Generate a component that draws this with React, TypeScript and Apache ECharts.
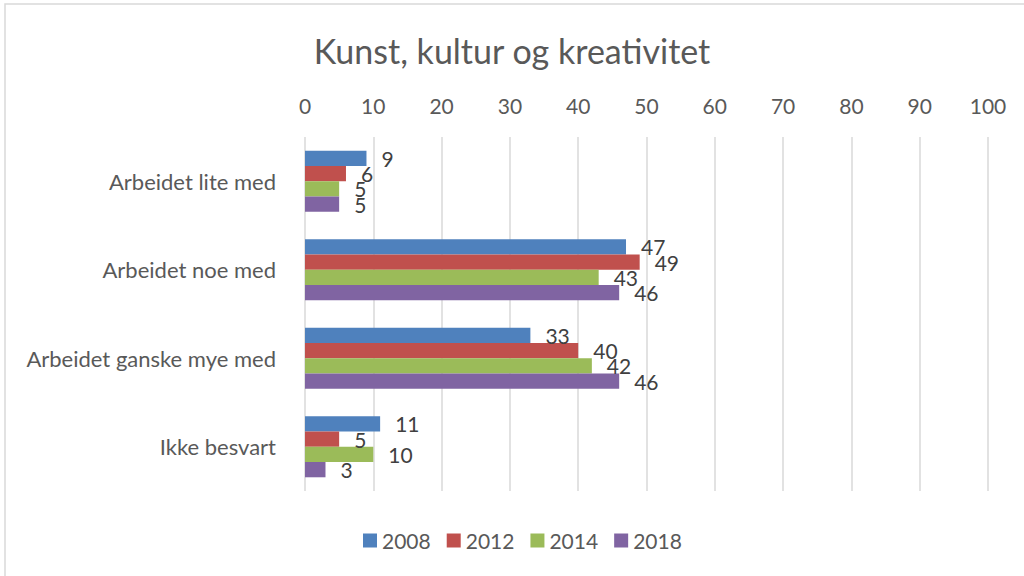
import React, { useEffect, useRef } from "react";
import * as echarts from "echarts";

const categories = ["Arbeidet lite med", "Arbeidet noe med", "Arbeidet ganske mye med", "Ikke besvart"];
const seriesNames = ["2008", "2012", "2014", "2018"];
const v2008 = [9, 47, 33, 11];
const v2012 = [6, 49, 40, 5];
const v2014 = [5, 43, 42, 10];
const v2018 = [5, 46, 46, 3];
const colors = ["#4F81BD", "#C0504D", "#9BBB59", "#8064A2"];
const values = [v2008, v2012, v2014, v2018];

const FONT = "Lato";

export default function App() {
  const ref = useRef<HTMLDivElement>(null);
  useEffect(() => {
    const chart = echarts.init(ref.current!, null, { renderer: "svg" });
    chart.setOption({
      animation: false,
      backgroundColor: "#ffffff",
      textStyle: { fontFamily: FONT },
      title: {
        text: "Kunst, kultur og kreativitet",
        left: "center",
        top: 28,
        textStyle: { fontFamily: FONT, fontSize: 34, fontWeight: "normal", color: "#595959" },
      },
      graphic: [
        {
          type: "rect",
          shape: { x: 5, y: 4, width: 1040, height: 620 },
          style: { fill: "none", stroke: "#d9d9d9", lineWidth: 1.5 },
          silent: true,
        },
      ],
      legend: {
        bottom: 20,
        left: 358,
        itemWidth: 14,
        itemHeight: 14,
        itemGap: 16,
        icon: "rect",
        textStyle: { fontFamily: FONT, fontSize: 21, color: "#595959" },
        data: seriesNames,
      },
      grid: { left: 305, right: 36, top: 137, bottom: 85, containLabel: false },
      xAxis: {
        type: "value",
        position: "top",
        min: 0,
        max: 100,
        interval: 10,
        axisLine: { show: false },
        axisTick: { show: false },
        axisLabel: { fontFamily: FONT, fontSize: 21, color: "#595959", margin: 21 },
        splitLine: { show: true, lineStyle: { color: "#d9d9d9", width: 1.5 } },
      },
      yAxis: {
        type: "category",
        inverse: true,
        data: categories,
        axisLine: { show: false },
        axisTick: { show: false },
        axisLabel: { fontFamily: FONT, fontSize: 22, color: "#595959", margin: 29 },
      },
      series: seriesNames.map((name, i) => ({
        name,
        type: "bar",
        data: values[i],
        barGap: "0%",
        barCategoryGap: "31%",
        itemStyle: { color: colors[i] },
        label: {
          show: true,
          position: "right",
          distance: 15,
          fontFamily: FONT,
          fontSize: 21,
          color: "#404040",
        },
      })),
    });
    return () => chart.dispose();
  }, []);
  return (
    <div
      ref={ref}
      style={{ position: "absolute", left: 0, top: 0, width: 1024, height: 576 }}
    />
  );
}
